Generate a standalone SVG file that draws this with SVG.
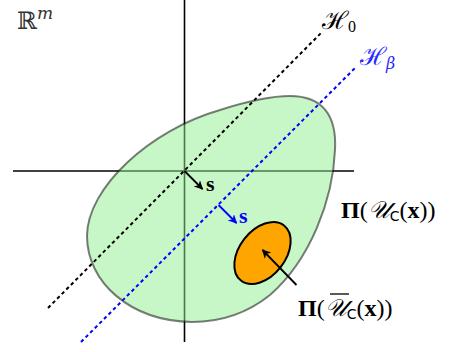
<svg xmlns="http://www.w3.org/2000/svg" width="451" height="352" viewBox="0 0 451 352">
<defs>
<marker id="ahk" viewBox="0 0 10 10" refX="9" refY="5" markerWidth="5" markerHeight="5" orient="auto-start-reverse"><path d="M0,0 L10,5 L0,10 L3,5 z" fill="#000"/></marker>
<marker id="ahb" viewBox="0 0 10 10" refX="9" refY="5" markerWidth="5" markerHeight="5" orient="auto-start-reverse"><path d="M0,0 L10,5 L0,10 L3,5 z" fill="#0000ff"/></marker>
<style>
.axis{stroke:#000;stroke-width:1.6;fill:none}
.dot{stroke-width:2;stroke-dasharray:3.5 3;fill:none}
.math{font-family:"DejaVu Serif","Liberation Serif",serif;font-style:italic}
.rm{font-family:"Liberation Serif","DejaVu Serif",serif}
.sf{font-family:"DejaVu Sans","Liberation Sans",sans-serif}
</style>
</defs>
<rect width="451" height="352" fill="#fff"/>
<g id="axes">
<line class="axis" x1="13" y1="171" x2="354" y2="171"/>
<line class="axis" x1="184.5" y1="0" x2="184.5" y2="342"/>
</g>
<g id="set-U">
<path d="M290,96 C322,96 337,115 335,150 C333,200 310,260 270,295 C245,315 218,322 192,322 C130,321 87,282 87,236 C87,188 150,130 220,110 C248,101 270,96 290,96 Z" fill="rgb(144,238,144)" fill-opacity="0.5" stroke="#000" stroke-opacity="0.5" stroke-width="2"/>
</g>
<g id="set-Ubar">
<ellipse cx="262.5" cy="253" rx="35" ry="23" transform="rotate(-52 262.5 253)" fill="#FFA500" stroke="#000" stroke-width="2"/>
</g>
<g id="connectors">
<line class="dot" x1="48" y1="308" x2="321" y2="33" stroke="#000"/>
<line class="dot" x1="81" y1="342" x2="356" y2="67" stroke="#0000ff"/>
<line x1="184.5" y1="171" x2="202.5" y2="189" stroke="#000" stroke-width="1.8" marker-end="url(#ahk)"/>
<line x1="218.5" y1="205" x2="236.5" y2="223" stroke="#0000ff" stroke-width="1.8" marker-end="url(#ahb)"/>
<line x1="296.5" y1="285" x2="262.5" y2="250" stroke="#000" stroke-width="1.8" marker-end="url(#ahk)"/>
</g>
<g id="labels">
<text x="17" y="29" font-size="24" class="rm" fill="#333">ℝ<tspan class="math" font-size="17" dy="-10">m</tspan></text>
<text x="322" y="29" font-size="25" class="rm" fill="#000">ℋ<tspan font-size="16" dy="3">0</tspan></text>
<text x="360" y="65" font-size="25" class="rm" fill="#2a2aff">ℋ<tspan class="math" font-size="16" dy="4">β</tspan></text>
<text x="206" y="191" font-size="22" class="rm" font-weight="bold" fill="#000">s</text>
<text x="239" y="223" font-size="22" class="rm" font-weight="bold" fill="#0000ff">s</text>
<text x="341" y="218" font-size="24" class="rm" fill="#000"><tspan font-weight="bold">Π</tspan>(<tspan class="math">𝒰</tspan><tspan class="sf" font-size="14" dy="3">C</tspan><tspan dy="-3">(</tspan><tspan font-weight="bold">x</tspan>))</text>
<text x="298" y="316" font-size="24" class="rm" fill="#000"><tspan font-weight="bold">Π</tspan>(<tspan class="math">𝒰</tspan><tspan class="sf" font-size="14" dy="3">C</tspan><tspan dy="-3">(</tspan><tspan font-weight="bold">x</tspan>))</text>
<line x1="330" y1="294" x2="349" y2="294" stroke="#000" stroke-width="1.3"/>
</g>
</svg>
